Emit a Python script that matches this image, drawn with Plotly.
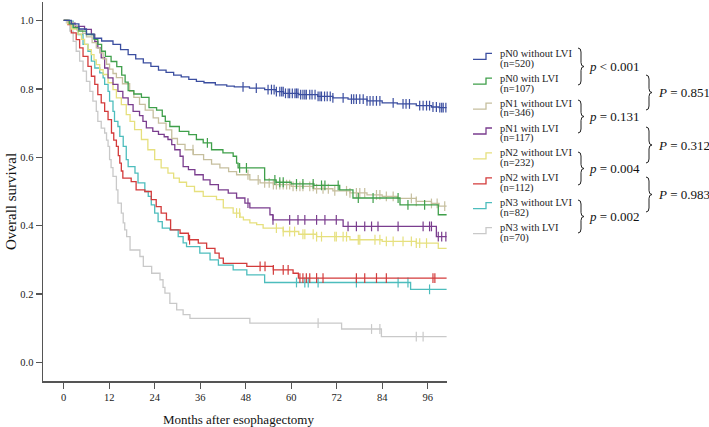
import numpy as np
import plotly.graph_objects as go

# ---------------- data ----------------
END_MONTH = 101.0

series_names = ["pN0 without LVI", "pN0 with LVI", "pN1 without LVI", "pN1 with LVI",
                "pN2 without LVI", "pN2 with LVI", "pN3 without LVI", "pN3 with LVI"]
series_n = ["(n=520)", "(n=107)", "(n=346)", "(n=117)", "(n=232)", "(n=112)", "(n=82)", "(n=70)"]
series_colors = ["#3b4ea0", "#3f9f4a", "#c6bf9e", "#7a3d8e", "#e6e07e", "#d33b3b", "#4dbdbd", "#c9c9c9"]

pN0_noLVI_t = [0, 2, 4, 6, 8, 10, 13, 15, 17, 19, 21, 23, 25, 27, 29, 31, 33, 35, 37, 40, 43, 45,
               49, 53, 56, 58, 62, 67, 71, 75, 80, 84, 88, 93, 97, 99]
pN0_noLVI_s = [1.0, 0.99, 0.975, 0.96, 0.948, 0.94, 0.93, 0.915, 0.90, 0.888, 0.876, 0.866, 0.855,
               0.848, 0.84, 0.835, 0.828, 0.822, 0.818, 0.812, 0.808, 0.806, 0.802, 0.798, 0.792,
               0.787, 0.783, 0.778, 0.774, 0.770, 0.765, 0.759, 0.756, 0.751, 0.747, 0.745]

pN0_LVI_t = [0, 1.5, 2.5, 4, 6, 8, 9, 10, 11, 12.5, 14, 15.3, 16.2, 17, 18.5, 20.5, 22.5, 24.5, 26,
             26.8, 28, 30.5, 33, 35, 36.8, 39, 42, 44.7, 45.6, 46, 53, 56, 60, 66, 72.8, 76.3, 88.7, 98.8]
pN0_LVI_s = [1.0, 0.99, 0.979, 0.969, 0.959, 0.945, 0.93, 0.91, 0.895, 0.88, 0.865, 0.84, 0.82, 0.795,
             0.785, 0.775, 0.745, 0.738, 0.72, 0.705, 0.69, 0.676, 0.666, 0.652, 0.642, 0.622, 0.613,
             0.603, 0.583, 0.569, 0.534, 0.527, 0.522, 0.518, 0.505, 0.481, 0.461, 0.432]

pN1_noLVI_t = [0, 1, 2.5, 3.5, 5, 6, 7.5, 8.6, 9.5, 10.4, 11.3, 12.1, 13, 13.9, 15.5, 17.4, 18.5, 20,
               21.5, 23.6, 25, 27, 28.5, 30, 32, 34.2, 36.9, 39, 41.2, 43.5, 45.6, 49.1, 51.8, 55.3,
               60, 66, 71, 75.5, 80, 84, 88, 93, 97, 99]
pN1_noLVI_s = [1.0, 0.995, 0.985, 0.972, 0.962, 0.952, 0.935, 0.92, 0.905, 0.888, 0.872, 0.858, 0.845,
               0.833, 0.815, 0.793, 0.775, 0.755, 0.738, 0.715, 0.70, 0.68, 0.655, 0.638, 0.622, 0.608,
               0.593, 0.58, 0.569, 0.558, 0.549, 0.534, 0.525, 0.52, 0.515, 0.508, 0.502, 0.496, 0.49,
               0.486, 0.48, 0.471, 0.465, 0.457]

pN1_LVI_t = [0, 1.5, 3, 5.5, 7.3, 8.2, 9, 9.9, 10.8, 11.7, 13, 14.3, 15.6, 17, 18.3, 20, 20.9, 21.8,
             23.5, 25, 26.5, 27.5, 28.5, 29.3, 30.7, 31.5, 32.9, 34.6, 36.8, 38.6, 40.8, 43.4, 45.6,
             47.8, 49.1, 54.4, 55.2, 73.7, 98.3]
pN1_LVI_s = [1.0, 0.992, 0.983, 0.974, 0.959, 0.939, 0.92, 0.891, 0.861, 0.832, 0.813, 0.793, 0.774,
             0.754, 0.734, 0.722, 0.705, 0.686, 0.676, 0.667, 0.66, 0.652, 0.637, 0.622, 0.603, 0.573,
             0.564, 0.549, 0.534, 0.52, 0.505, 0.495, 0.481, 0.466, 0.452, 0.432, 0.417, 0.398, 0.368]

pN2_noLVI_t = [0, 1, 2, 3.8, 4.7, 5.5, 6.4, 7.3, 8, 8.6, 9.5, 10.4, 11.7, 13, 13.9, 15.2, 16.5, 17.5,
               18.7, 20.5, 22.2, 24, 25.7, 27.5, 29, 30.5, 32.4, 34.5, 36.8, 40.3, 42.1, 44.7, 46.5,
               47.4, 49.1, 50.9, 52.6, 57.9, 62, 66.7, 75.5, 84, 93, 98.8]
pN2_noLVI_s = [1.0, 0.99, 0.975, 0.96, 0.945, 0.93, 0.915, 0.90, 0.885, 0.871, 0.856, 0.842, 0.818,
               0.798, 0.774, 0.754, 0.725, 0.705, 0.681, 0.652, 0.622, 0.593, 0.569, 0.554, 0.539,
               0.527, 0.515, 0.50, 0.486, 0.476, 0.452, 0.437, 0.425, 0.417, 0.408, 0.403, 0.393,
               0.383, 0.375, 0.368, 0.359, 0.354, 0.349, 0.334]

pN2_LVI_t = [0, 1.1, 2, 3.3, 4.2, 5.1, 6.4, 7.3, 8.2, 9, 9.9, 10.8, 11.7, 12.6, 13.2, 13.9, 14.4, 14.8,
             15.2, 15.6, 17.8, 19.1, 21.4, 23.1, 24.4, 25.7, 27.1, 28.2, 30.7, 32.9, 35.5, 37.7, 39.9,
             41, 42.1, 48.3, 55.3, 60.5, 61.9]
pN2_LVI_s = [1.0, 0.988, 0.964, 0.944, 0.92, 0.895, 0.866, 0.837, 0.813, 0.783, 0.759, 0.734, 0.71,
             0.671, 0.65, 0.632, 0.605, 0.583, 0.56, 0.539, 0.529, 0.505, 0.50, 0.476, 0.456, 0.437,
             0.417, 0.388, 0.378, 0.359, 0.349, 0.334, 0.32, 0.305, 0.29, 0.281, 0.271, 0.261, 0.247]

pN3_noLVI_t = [0, 1.1, 2.5, 3.8, 5.1, 6.4, 7.3, 8.2, 9.5, 10.4, 10.8, 11.7, 12.1, 13, 13.4, 14.3, 14.8,
               15.7, 16.5, 17, 18.8, 19.6, 21.4, 22.3, 23.1, 24, 24.9, 26, 28, 30.2, 31.5, 32.4, 35.9,
               38.6, 40.8, 44.7, 48.3, 53, 91.5]
pN3_noLVI_s = [1.0, 0.998, 0.979, 0.959, 0.93, 0.91, 0.881, 0.861, 0.847, 0.832, 0.813, 0.793, 0.764,
               0.734, 0.705, 0.69, 0.661, 0.632, 0.593, 0.573, 0.554, 0.525, 0.50, 0.486, 0.461, 0.437,
               0.412, 0.393, 0.388, 0.368, 0.35, 0.339, 0.32, 0.30, 0.285, 0.271, 0.256, 0.234, 0.214]

pN3_LVI_t = [0, 0.7, 1.6, 2.5, 3.3, 4.2, 5.1, 6, 6.9, 7.7, 8.6, 9, 9.9, 10.8, 11.3, 11.7, 12.1, 12.5,
             13, 13.9, 14.3, 15.2, 15.7, 16.1, 16.6, 17.5, 20.1, 21, 23.2, 25.4, 26.2, 26.7, 28, 29.8,
             31.5, 33.3, 49.1, 73.3, 83.8]
pN3_LVI_s = [1.0, 0.993, 0.969, 0.939, 0.91, 0.881, 0.852, 0.822, 0.793, 0.764, 0.734, 0.705, 0.685,
             0.671, 0.65, 0.632, 0.593, 0.57, 0.544, 0.505, 0.466, 0.437, 0.408, 0.388, 0.368, 0.329,
             0.31, 0.281, 0.261, 0.242, 0.22, 0.203, 0.173, 0.154, 0.14, 0.129, 0.115, 0.098, 0.0755]

# censoring times (months)
cens_pN0_noLVI = [47.3, 50.8, 53.9, 54.8, 55.5, 56.1, 57, 57.5, 57.9, 58.5, 59.2, 59.6, 60.3, 61, 61.4,
                  61.8, 62.5, 63.1, 63.6, 64, 64.9, 65.5, 66.3, 67.1, 67.6, 68, 68.8, 69.5, 70.3, 71,
                  73.7, 75.9, 76.5, 77.2, 78.1, 79, 80, 80.8, 81.6, 82.5, 83.4, 86.9, 89.5, 90.3, 91.2,
                  93.9, 94.8, 95.7, 96.5, 97.4, 98.3, 99.2, 99.7, 100.1, 100.8]
cens_pN0_LVI = [37.9, 46.4, 48.2, 55.7, 57, 57.9, 61.4, 63.1, 65.8, 68, 68.9, 72.4, 77.7, 81.6, 88.2, 90.8, 95.2]
cens_pN1_noLVI = [34.1, 48.6, 51.3, 53, 54.2, 55.3, 56.1, 57, 57.9, 58.8, 59.6, 60.5, 61.4, 62.3, 63.1,
                  64.9, 65.8, 66.7, 68.4, 69.8, 71.5, 74.6, 75.5, 77.2, 78.1, 79.4, 82.5, 83.4, 85.1,
                  86.9, 91.7, 93, 97, 98.5, 100.5]
cens_pN1_LVI = [48.6, 55.2, 59.6, 61.8, 63.6, 66.7, 68.9, 71.9, 75, 77.2, 79.4, 81.2, 82.9, 88.2, 94.8,
                96.5, 97, 98.8, 99.7, 100.8]
cens_pN2_noLVI = [45.6, 46.4, 56.1, 57.9, 59.6, 60.9, 63.1, 63.6, 65.8, 66.7, 68, 71.5, 71.9, 73.7, 74.6,
                  77.7, 78.1, 82.1, 83.4, 85.1, 86.9, 89.5, 91.7, 93, 93.9, 95.7]
cens_pN2_LVI = [33.2, 51.8, 53.1, 55.3, 57.9, 59.2, 62.3, 63.1, 64, 64.9, 66.7, 68.4, 77.2, 79.4, 82.5,
                85.1, 97.4, 97.9]
cens_pN3_noLVI = [61.4, 63.6, 64.5, 67.1, 77.2, 88.2, 90.8, 96.5]
cens_pN3_LVI = [67.1, 81.2, 83.4, 93, 94.8]

times = [pN0_noLVI_t, pN0_LVI_t, pN1_noLVI_t, pN1_LVI_t, pN2_noLVI_t, pN2_LVI_t, pN3_noLVI_t, pN3_LVI_t]
survs = [pN0_noLVI_s, pN0_LVI_s, pN1_noLVI_s, pN1_LVI_s, pN2_noLVI_s, pN2_LVI_s, pN3_noLVI_s, pN3_LVI_s]
censors = [cens_pN0_noLVI, cens_pN0_LVI, cens_pN1_noLVI, cens_pN1_LVI, cens_pN2_noLVI, cens_pN2_LVI,
           cens_pN3_noLVI, cens_pN3_LVI]

pair_labels = ["<i>p</i> < 0.001", "<i>p</i> = 0.131", "<i>p</i> = 0.004", "<i>p</i> = 0.002"]
cross_labels = ["<i>P</i> = 0.851", "<i>P</i> = 0.312", "<i>P</i> = 0.983"]

x_ticks = [0, 12, 24, 36, 48, 60, 72, 84, 96]
y_ticks = [0.0, 0.2, 0.4, 0.6, 0.8, 1.0]

# ---------------- figure ----------------
W, H = 709, 427
ML, MR, MT, MB = 43, 262, 2, 46
PW, PH = W - ML - MR, H - MT - MB
FONT = "Liberation Serif"


def px(x):
    return (x - ML) / PW


def py(y):
    return (H - MB - y) / PH


fig = go.Figure()

# draw in reverse order so that pN0 lies on top
for i in reversed(range(len(series_names))):
    t = list(times[i]) + [END_MONTH]
    s = list(survs[i]) + [survs[i][-1]]
    fig.add_trace(go.Scatter(x=t, y=s, mode="lines", line=dict(color=series_colors[i], width=1.3, shape="hv"),
                             name=series_names[i], showlegend=False, hoverinfo="skip"))
    ct = np.array(censors[i], dtype=float)
    idx = np.searchsorted(np.array(times[i]), ct, side="right") - 1
    cs = np.array(survs[i])[idx]
    fig.add_trace(go.Scatter(x=ct, y=cs, mode="markers",
                             marker=dict(symbol="line-ns-open", size=7, color=series_colors[i],
                                         line=dict(color=series_colors[i], width=1.2)),
                             showlegend=False, hoverinfo="skip"))

shapes = []
annotations = []

# custom legend with step-shaped symbols
LEG_Y0, LEG_DY = 53.3, 24.9
for i, name in enumerate(series_names):
    yc = LEG_Y0 + i * LEG_DY
    path = (f"M {px(473)},{py(yc + 6)} L {px(486)},{py(yc + 6)} "
            f"L {px(486)},{py(yc)} L {px(492)},{py(yc)}")
    shapes.append(dict(type="path", xref="paper", yref="paper", path=path,
                       line=dict(color=series_colors[i], width=1.3)))
    annotations.append(dict(x=px(498), y=py(yc), xref="paper", yref="paper", text=name,
                            showarrow=False, xanchor="left", yanchor="middle",
                            font=dict(family=FONT, size=10.5, color="#222")))
    annotations.append(dict(x=px(498), y=py(yc + 10.3), xref="paper", yref="paper", text=series_n[i],
                            showarrow=False, xanchor="left", yanchor="middle",
                            font=dict(family=FONT, size=10.5, color="#222")))


def brace(x0, y1, y2, w):
    ym = (y1 + y2) / 2
    xm = x0 + w * 0.5
    r = min(4.0, (y2 - y1) / 4)
    return (f"M {px(x0)},{py(y1)} Q {px(xm)},{py(y1)} {px(xm)},{py(y1 + r)} "
            f"L {px(xm)},{py(ym - r)} Q {px(xm)},{py(ym)} {px(x0 + w)},{py(ym)} "
            f"Q {px(xm)},{py(ym)} {px(xm)},{py(ym + r)} "
            f"L {px(xm)},{py(y2 - r)} Q {px(xm)},{py(y2)} {px(x0)},{py(y2)}")


pair_braces = [(48, 85), (100, 133), (152, 185), (200, 233)]
for (y1, y2), lab in zip(pair_braces, pair_labels):
    shapes.append(dict(type="path", xref="paper", yref="paper", path=brace(578, y1, y2, 6),
                       line=dict(color="#222", width=1)))
    annotations.append(dict(x=px(587), y=py((y1 + y2) / 2), xref="paper", yref="paper", text=lab,
                            showarrow=False, xanchor="left", yanchor="middle",
                            font=dict(family=FONT, size=13, color="#111")))

cross_braces = [(75, 110), (127, 163), (177, 212)]
for (y1, y2), lab in zip(cross_braces, cross_labels):
    shapes.append(dict(type="path", xref="paper", yref="paper", path=brace(646, y1, y2, 6),
                       line=dict(color="#222", width=1)))
    annotations.append(dict(x=px(656), y=py((y1 + y2) / 2), xref="paper", yref="paper", text=lab,
                            showarrow=False, xanchor="left", yanchor="middle",
                            font=dict(family=FONT, size=13, color="#111")))

# axis titles
annotations.append(dict(x=px(238), y=py(419), xref="paper", yref="paper", text="Months after esophagectomy",
                        showarrow=False, xanchor="center", yanchor="middle",
                        font=dict(family=FONT, size=13, color="#111")))
annotations.append(dict(x=px(11), y=py(202), xref="paper", yref="paper", text="Overall survival",
                        showarrow=False, xanchor="center", yanchor="middle", textangle=-90,
                        font=dict(family=FONT, size=15, color="#111")))

fig.update_layout(
    width=W, height=H,
    margin=dict(l=ML, r=MR, t=MT, b=MB),
    paper_bgcolor="white", plot_bgcolor="white",
    showlegend=False,
    shapes=shapes, annotations=annotations,
    font=dict(family=FONT, size=10.5, color="#222"),
)
fig.update_xaxes(range=[-5.46, 101.1], tickvals=x_ticks, ticktext=[str(v) for v in x_ticks],
                 showgrid=False, zeroline=False, showline=True, linecolor="#555", linewidth=1.5,
                 ticks="outside", ticklen=6, tickwidth=1.3, tickcolor="#555",
                 tickfont=dict(family=FONT, size=10.5, color="#222"))
fig.update_yaxes(range=[-0.054, 1.054], tickvals=y_ticks, ticktext=[f"{v:.1f}" for v in y_ticks],
                 showgrid=False, zeroline=False, showline=True, linecolor="#555", linewidth=1.5,
                 ticks="outside", ticklen=6, tickwidth=1.3, tickcolor="#555",
                 tickfont=dict(family=FONT, size=10.5, color="#222"))

fig.write_html("out.html", config={"displayModeBar": False, "staticPlot": True},
               post_script="document.body.style.margin='0px';document.body.style.overflow='hidden';")
